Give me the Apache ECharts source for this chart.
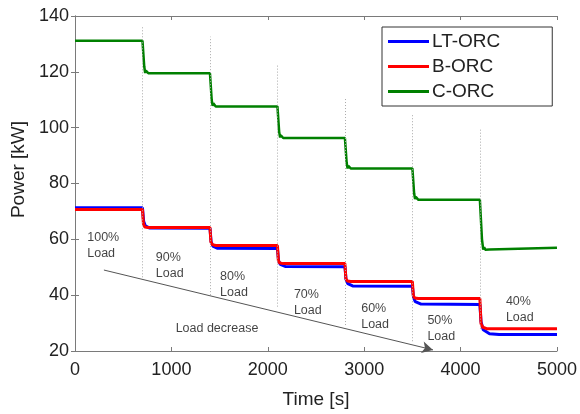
<!DOCTYPE html>
<html>
<head>
<meta charset="utf-8">
<script src="https://cdn.jsdelivr.net/npm/echarts@6/dist/echarts.min.js"></script>
<style>
  html, body { margin: 0; padding: 0; background: #fff; }
  #chart { width: 580px; height: 414px; }
</style>
</head>
<body>
<div id="chart"></div>
<script>
// Power traces: [time s, power kW]
const ltOrc = [
  [0, 71.3], [700, 71.3], [712, 66.5], [730, 64.8], [770, 64.1], [1400, 64.0],
  [1412, 59.2], [1430, 57.6], [1480, 56.8], [2100, 56.7],
  [2112, 52.3], [2130, 51.0], [2180, 50.3], [2800, 50.2],
  [2812, 45.6], [2830, 44.1], [2880, 43.3], [3500, 43.2],
  [3512, 39.2], [3530, 37.7], [3590, 36.8], [4200, 36.7],
  [4212, 30.5], [4235, 27.6], [4300, 26.2], [4400, 25.9], [5000, 25.9]
];
const bOrc = [
  [0, 70.7], [700, 70.7], [710, 65.5], [725, 64.4], [760, 64.2], [1400, 64.2],
  [1410, 59.0], [1425, 58.1], [1460, 57.8], [2100, 57.8],
  [2110, 52.3], [2125, 51.5], [2160, 51.3], [2800, 51.3],
  [2810, 45.9], [2825, 45.1], [2860, 44.9], [3500, 44.9],
  [3510, 39.8], [3525, 39.0], [3560, 38.8], [4200, 38.8],
  [4212, 29.8], [4230, 28.5], [4270, 28.0], [5000, 28.0]
];
const cOrc = [
  [0, 131.1], [700, 131.1], [718, 122], [728, 119.6], [735, 120.4], [745, 119.8], [760, 119.5], [1400, 119.5],
  [1418, 110], [1428, 107.8], [1435, 108.7], [1445, 108], [1460, 107.6], [2100, 107.6],
  [2118, 98.5], [2128, 96.5], [2135, 97.3], [2145, 96.6], [2160, 96.3], [2800, 96.3],
  [2818, 87.5], [2828, 85.4], [2835, 86.3], [2845, 85.6], [2860, 85.4], [3500, 85.4],
  [3518, 76.5], [3528, 74.4], [3535, 75.2], [3545, 74.5], [3560, 74.2], [4200, 74.2],
  [4222, 60], [4235, 56.3], [4245, 57.2], [4255, 56.3], [4270, 56.7], [4300, 56.4], [5000, 57.0]
];

// load-step dividers (dotted) and annotations
const stepTimes = [700, 1400, 2100, 2800, 3500, 4200];
const stepTop = [136, 132.6, 122.4, 110.9, 104.5, 99.4];
const stepBottom = [46.4, 40, 35.9, 29.3, 23.5, 28];
const loadLabels = ['100%\nLoad', '90%\nLoad', '80%\nLoad', '70%\nLoad', '60%\nLoad', '50%\nLoad', '40%\nLoad', 'Load decrease'];
const loadLabelTime = [127, 838, 1505, 2271, 2969, 3656, 4470, 1044];
const loadLabelPower = [57.7, 50.5, 43.8, 37.2, 32.3, 28.2, 34.9, 28.2];
const arrowFrom = [300, 49];
const arrowTo = [3714, 20.4];

const FONT = "'Liberation Sans', Arial, sans-serif";
const AXIS_GRAY = '#7a7a7a';

const chart = echarts.init(document.getElementById('chart'), null, { renderer: 'canvas' });

const dividerLines = stepTimes.map((t, i) => [
  { coord: [t, stepBottom[i]], symbol: 'none' },
  { coord: [t, stepTop[i]], symbol: 'none', lineStyle: { color: '#aaa', width: 1, type: [1, 2] } }
]);

const axisCommon = {
  type: 'value',
  axisLine: { show: true, lineStyle: { color: AXIS_GRAY, width: 1 } },
  axisTick: { show: true, inside: true, length: 4, lineStyle: { color: AXIS_GRAY } },
  splitLine: { show: false },
};

chart.setOption({
  animation: false,
  backgroundColor: '#fff',
  textStyle: { fontFamily: FONT },
  grid: { left: 75, right: 20, top: 16, bottom: 57 },
  legend: {
    data: ['LT-ORC', 'B-ORC', 'C-ORC'],
    orient: 'vertical',
    left: 382,
    top: 27,
    icon: 'rect',
    itemWidth: 41,
    itemHeight: 3,
    itemGap: 6,
    padding: [5, 52, 5, 6],
    borderColor: '#333',
    borderWidth: 1,
    backgroundColor: '#fff',
    textStyle: { fontSize: 19, color: '#222', padding: [0, 0, 0, -2] },
  },
  xAxis: [
    {
      ...axisCommon,
      min: 0, max: 5000, interval: 1000,
      name: 'Time [s]',
      nameLocation: 'middle',
      nameGap: 39,
      nameTextStyle: { fontSize: 19, color: '#222' },
      axisLabel: { fontSize: 18, color: '#222', margin: 10, formatter: v => String(v) },
    },
    {
      ...axisCommon,
      position: 'top',
      min: 0, max: 5000, interval: 1000,
      axisLabel: { show: false },
    },
  ],
  yAxis: [
    {
      ...axisCommon,
      min: 20, max: 140, interval: 20,
      name: 'Power [kW]',
      nameLocation: 'middle',
      nameGap: 47,
      nameTextStyle: { fontSize: 19, color: '#222', padding: [0, 0, 0, 28] },
      axisLabel: { fontSize: 18, color: '#222', margin: 6, formatter: v => String(v) },
    },
    {
      ...axisCommon,
      position: 'right',
      min: 20, max: 140, interval: 20,
      axisLabel: { show: false },
    },
  ],
  series: [
    {
      name: 'annotations',
      type: 'line',
      data: [],
      silent: true,
      markLine: {
        silent: true,
        animation: false,
        label: { show: false },
        symbolSize: [9, 11],
        data: [
          ...dividerLines,
          [
            { coord: arrowFrom, symbol: 'none' },
            { coord: arrowTo, symbol: 'arrow', lineStyle: { color: '#555', width: 1, type: 'solid' } }
          ],
        ],
      },
    },
    {
      name: 'LT-ORC', type: 'line', data: ltOrc, showSymbol: false, symbol: 'none',
      lineStyle: { color: '#0000ff', width: 3 }, itemStyle: { color: '#0000ff' },
    },
    {
      name: 'B-ORC', type: 'line', data: bOrc, showSymbol: false, symbol: 'none',
      lineStyle: { color: '#ff0000', width: 3 }, itemStyle: { color: '#ff0000' },
    },
    {
      name: 'C-ORC', type: 'line', data: cOrc, showSymbol: false, symbol: 'none',
      lineStyle: { color: '#008000', width: 2.5 }, itemStyle: { color: '#008000' },
    },
    {
      name: 'labels',
      type: 'scatter',
      silent: true,
      symbolSize: 0,
      data: loadLabels.map((txt, i) => ({ value: [loadLabelTime[i], loadLabelPower[i]], txt })),
      label: {
        show: true,
        position: 'right',
        distance: 0,
        formatter: p => p.data.txt,
        fontSize: 12.5,
        lineHeight: 16,
        color: '#111',
      },
    },
  ],
});
</script>
</body>
</html>
